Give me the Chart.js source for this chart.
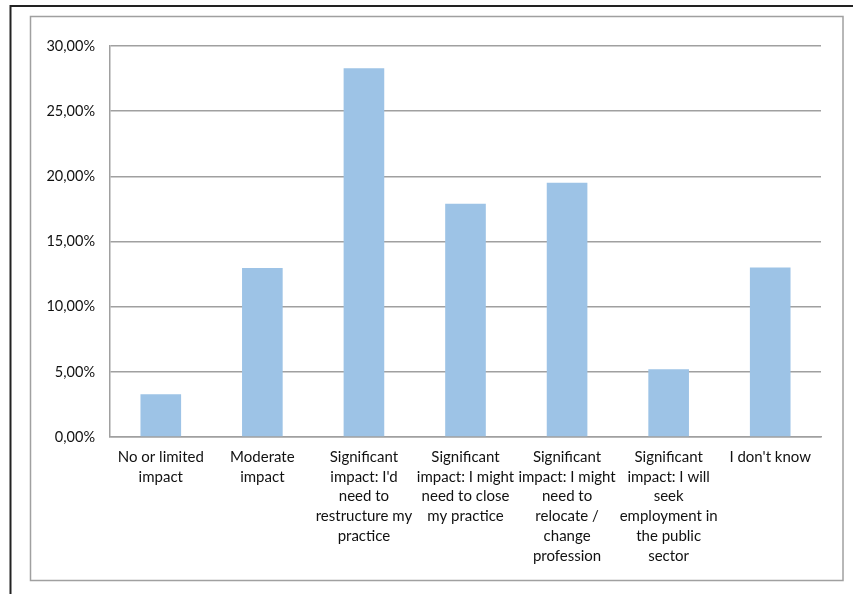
<!DOCTYPE html>
<html>
<head>
<meta charset="utf-8">
<script src="https://cdn.jsdelivr.net/npm/chart.js@4.4.1/dist/chart.umd.min.js"></script>
<style>
  html, body { margin: 0; padding: 0; background: #ffffff; }
  #wrap { position: relative; width: 853px; height: 594px; }
</style>
</head>
<body>
<div id="wrap"><canvas id="chart" width="853" height="594"></canvas></div>
<script>
// Answer categories (pre-wrapped into lines)
const categories = [
  ["No or limited", "impact"],
  ["Moderate", "impact"],
  ["Significant", "impact: I'd", "need to", "restructure my", "practice"],
  ["Significant", "impact: I might", "need to close", "my practice"],
  ["Significant", "impact: I might", "need to", "relocate /", "change", "profession"],
  ["Significant", "impact: I will", "seek", "employment in", "the public", "sector"],
  ["I don't know"]
];

// Share of respondents, in percent
const shares = [3.28, 12.96, 28.3, 17.9, 19.5, 5.2, 13.0];

// Value axis settings
const axisMin = 0;
const axisMax = 30;
const axisStep = 5;

const FONT = "Lato, 'Liberation Sans', Arial, sans-serif";

// Frame lines around the chart
const framePlugin = {
  id: 'frame',
  beforeDraw(chart) {
    const ctx = chart.ctx;
    ctx.save();
    ctx.fillStyle = '#ffffff';
    ctx.fillRect(0, 0, chart.width, chart.height);
    // outer dark border (top and left)
    ctx.strokeStyle = '#222222';
    ctx.lineWidth = 2;
    ctx.beginPath();
    ctx.moveTo(853, 6);
    ctx.lineTo(10.5, 6);
    ctx.lineTo(10.5, 594);
    ctx.stroke();
    // inner grey chart border
    ctx.strokeStyle = '#a0a0a0';
    ctx.lineWidth = 1.5;
    ctx.strokeRect(30.5, 16.5, 812.5, 564);
    ctx.restore();
  }
};

new Chart(document.getElementById('chart'), {
  type: 'bar',
  data: {
    labels: categories,
    datasets: [{
      data: shares,
      backgroundColor: '#9dc3e6',
      borderWidth: 0,
      barPercentage: 0.4,
      categoryPercentage: 1.0
    }]
  },
  options: {
    responsive: false,
    animation: false,
    devicePixelRatio: 1,
    layout: { padding: { left: 0, top: 46, right: 32, bottom: 0 } },
    plugins: {
      legend: { display: false },
      tooltip: { enabled: false }
    },
    scales: {
      x: {
        afterFit(scale) { scale.height = 594 - 46 - 391; },
        grid: { display: false, drawTicks: false },
        border: { display: true, color: '#a0a0a0', width: 1.5 },
        ticks: {
          color: '#111111',
          padding: 10,
          maxRotation: 0,
          autoSkip: false,
          font: { family: FONT, size: 15, lineHeight: 1.32 }
        }
      },
      y: {
        min: axisMin,
        max: axisMax,
        afterFit(scale) { scale.width = 110; },
        grid: { color: '#a0a0a0', lineWidth: 1.5, drawTicks: false },
        border: { display: true, color: '#a0a0a0', width: 1.5 },
        ticks: {
          stepSize: axisStep,
          color: '#111111',
          padding: 15,
          font: { family: FONT, size: 14.5 },
          callback: (v) => v.toFixed(2).replace('.', ',') + '%'
        }
      }
    }
  },
  plugins: [framePlugin]
});
</script>
</body>
</html>
